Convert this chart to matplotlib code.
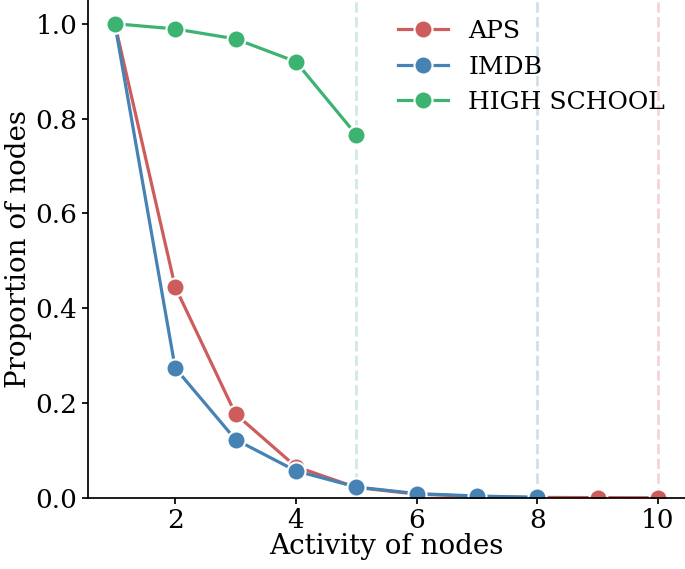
import matplotlib
matplotlib.use('Agg')
import matplotlib.pyplot as plt

activity = [1, 2, 3, 4, 5, 6, 7, 8, 9, 10]
aps = [1.0, 0.445, 0.177, 0.066, 0.022, 0.008, 0.003, 0.001, 0.0005, 0.0002]
imdb = [1.0, 0.274, 0.123, 0.057, 0.023, 0.009, 0.004, 0.001]
high_school = [1.0, 0.989, 0.968, 0.92, 0.766]

series = [('APS', aps, 'indianred'),
          ('IMDB', imdb, 'steelblue'),
          ('HIGH SCHOOL', high_school, 'mediumseagreen')]

plt.rcParams['font.family'] = 'DejaVu Serif'
plt.rcParams['font.size'] = 18
plt.rcParams['axes.linewidth'] = 1.25

fig = plt.figure(figsize=(6.85, 5.69), dpi=100)
ax = fig.add_axes([0.128, 0.125, 0.872, 0.875])

for name, vals, col in series:
    n = len(vals)
    ax.plot(activity[:n], vals, '-o', color=col, lw=2.3, ms=13,
            mec='white', mew=1.5, label=name)
    ax.axvline(activity[n - 1], color=col, ls='--', lw=2, alpha=0.25, zorder=0)

ax.set_xlim(0.55, 10.45)
ax.set_ylim(0, 1.05)
ax.set_xticks([2, 4, 6, 8, 10])
ax.set_yticks([0.0, 0.2, 0.4, 0.6, 0.8, 1.0])
ax.set_xlabel('Activity of nodes', fontsize=20, labelpad=0)
ax.set_ylabel('Proportion of nodes', fontsize=20, labelpad=2)
ax.spines['top'].set_visible(False)
ax.spines['right'].set_visible(False)
ax.tick_params(length=4, width=1.25, labelsize=19)
ax.legend(frameon=False, loc='upper right', bbox_to_anchor=(1.0, 1.0),
          handlelength=2.0, borderpad=0.3)

fig.savefig('out.png', dpi=100)
